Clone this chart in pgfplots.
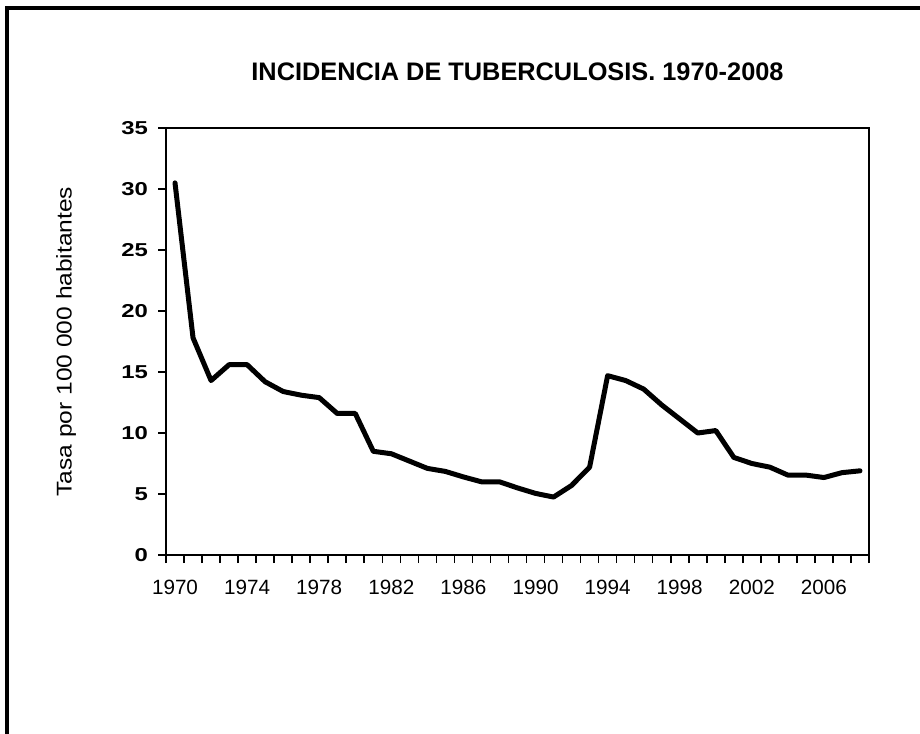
\documentclass[border=0pt]{standalone}
\usepackage{fontspec}
\setmainfont{Liberation Sans}
\newfontfamily\ytickfont[FakeStretch=1.28]{Liberation Sans Bold}
\newfontfamily\ylabfont[FakeStretch=1.15]{Liberation Sans}
\usepackage{pgfplots}
\pgfplotsset{compat=1.18}
\begin{document}
\begin{tikzpicture}
\path[use as bounding box] (0,0) rectangle (690pt,549.75pt);
\draw[line width=3pt, line join=miter, line cap=rect] (5.6pt,0) -- (5.6pt,543.75pt) -- (692pt,543.75pt);
\begin{axis}[
  at={(124.5pt,133.5pt)}, anchor=south west,
  scale only axis, width=527.25pt, height=320.25pt,
  xmin=1969.5, xmax=2008.5, ymin=0, ymax=35,
  axis line style={line width=1.5pt},
  xtick={1969.5,1970.5,...,2008.5},
  xticklabels={},
  extra x ticks={1970,1974,...,2006},
  extra x tick style={major tick length=0pt, tick style={draw=none}, xticklabel style={font=\fontsize{15.5}{18}\selectfont, yshift=-15pt}},
  ytick={0,5,...,35},
  tick align=outside,
  major tick length=6pt,
  x tick style={line width=1.2pt, black},
  y tick style={line width=1.2pt, black},
  xtick pos=bottom, ytick pos=left,
  /pgf/number format/assume math mode=true,
  /pgf/number format/1000 sep={},
  yticklabel style={font=\fontsize{14}{17}\ytickfont, xshift=-4pt},
  title={\bfseries INCIDENCIA DE TUBERCULOSIS. 1970-2008},
  title style={font=\fontsize{19}{23}\selectfont, at={(0.5,1)}, anchor=center, yshift=36pt},
  ylabel={Tasa por 100 000 habitantes},
  ylabel style={font=\fontsize{16}{19}\ylabfont, at={(0,0.5)}, anchor=center, yshift=75pt},
  clip=false,
]
\addplot[black, line width=3.75pt, line join=round, line cap=round, mark=none] coordinates {
(1970,30.5) (1971,17.8) (1972,14.3) (1973,15.6) (1974,15.6) (1975,14.2)
(1976,13.4) (1977,13.1) (1978,12.9) (1979,11.6) (1980,11.6) (1981,8.5)
(1982,8.3) (1983,7.7) (1984,7.1) (1985,6.85) (1986,6.4) (1987,6.0)
(1988,6.0) (1989,5.5) (1990,5.05) (1991,4.75) (1992,5.7) (1993,7.2)
(1994,14.7) (1995,14.3) (1996,13.6) (1997,12.3) (1998,11.15) (1999,10.0)
(2000,10.2) (2001,8.0) (2002,7.5) (2003,7.2) (2004,6.55) (2005,6.55)
(2006,6.35) (2007,6.75) (2008,6.9)
};
\end{axis}
\end{tikzpicture}
\end{document}
